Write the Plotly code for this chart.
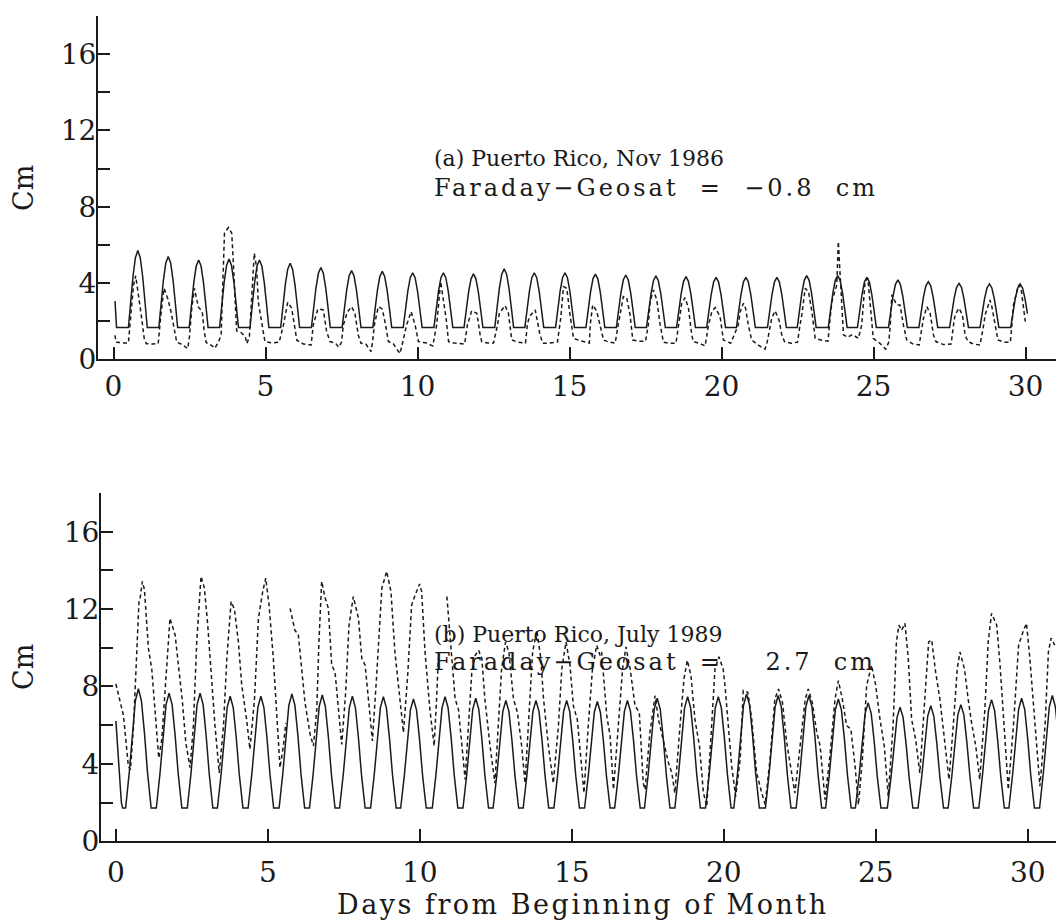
import plotly.graph_objects as go

# (a) Puerto Rico, Nov 1986 -- solid: model, dashed: observed
top_model_day = [
    0.05, 0.10,
    0.49, 0.56, 0.64, 0.72, 0.80, 0.88, 0.96, 1.04, 1.11,
    1.49, 1.56, 1.64, 1.72, 1.80, 1.88, 1.96, 2.04, 2.11,
    2.49, 2.56, 2.64, 2.72, 2.80, 2.88, 2.96, 3.04, 3.11,
    3.49, 3.56, 3.64, 3.72, 3.80, 3.88, 3.96, 4.04, 4.11,
    4.49, 4.56, 4.64, 4.72, 4.80, 4.88, 4.96, 5.04, 5.11,
    5.50, 5.57, 5.65, 5.73, 5.81, 5.89, 5.97, 6.05, 6.12,
    6.51, 6.58, 6.66, 6.74, 6.82, 6.90, 6.98, 7.06, 7.13,
    7.52, 7.59, 7.67, 7.75, 7.83, 7.91, 7.99, 8.07, 8.14,
    8.53, 8.60, 8.68, 8.76, 8.84, 8.92, 9.00, 9.08, 9.15,
    9.53, 9.60, 9.68, 9.76, 9.84, 9.92, 10.00, 10.08, 10.15,
    10.54, 10.61, 10.69, 10.77, 10.85, 10.93, 11.01, 11.09, 11.16,
    11.53, 11.60, 11.68, 11.76, 11.84, 11.92, 12.00, 12.08, 12.15,
    12.54, 12.61, 12.69, 12.77, 12.85, 12.93, 13.01, 13.09, 13.16,
    13.53, 13.60, 13.68, 13.76, 13.84, 13.92, 14.00, 14.08, 14.15,
    14.54, 14.61, 14.69, 14.77, 14.85, 14.93, 15.01, 15.09, 15.16,
    15.54, 15.61, 15.69, 15.77, 15.85, 15.93, 16.01, 16.09, 16.16,
    16.54, 16.61, 16.69, 16.77, 16.85, 16.93, 17.01, 17.09, 17.16,
    17.53, 17.60, 17.68, 17.76, 17.84, 17.92, 18.00, 18.08, 18.15,
    18.52, 18.59, 18.67, 18.75, 18.83, 18.91, 18.99, 19.07, 19.14,
    19.51, 19.58, 19.66, 19.74, 19.82, 19.90, 19.98, 20.06, 20.13,
    20.49, 20.56, 20.64, 20.72, 20.80, 20.88, 20.96, 21.04, 21.11,
    21.51, 21.58, 21.66, 21.74, 21.82, 21.90, 21.98, 22.06, 22.13,
    22.49, 22.56, 22.64, 22.72, 22.80, 22.88, 22.96, 23.04, 23.11,
    23.51, 23.58, 23.66, 23.74, 23.82, 23.90, 23.98, 24.06, 24.13,
    24.47, 24.54, 24.62, 24.70, 24.78, 24.86, 24.94, 25.02, 25.09,
    25.49, 25.56, 25.64, 25.72, 25.80, 25.88, 25.96, 26.04, 26.11,
    26.49, 26.56, 26.64, 26.72, 26.80, 26.88, 26.96, 27.04, 27.11,
    27.50, 27.57, 27.65, 27.73, 27.81, 27.89, 27.97, 28.05, 28.12,
    28.50, 28.57, 28.65, 28.73, 28.81, 28.89, 28.97, 29.05, 29.12,
    29.51, 29.58, 29.66, 29.74, 29.82, 29.90, 29.98, 30.06,
]
top_model_cm = [
    3.05, 1.67,
    1.67, 2.94, 4.33, 5.33, 5.70, 5.33, 4.33, 2.94, 1.67,
    1.67, 2.84, 4.13, 5.05, 5.39, 5.05, 4.13, 2.84, 1.67,
    1.67, 2.79, 4.01, 4.89, 5.21, 4.89, 4.01, 2.79, 1.67,
    1.67, 2.80, 4.04, 4.93, 5.26, 4.93, 4.04, 2.80, 1.67,
    1.67, 2.79, 4.01, 4.89, 5.21, 4.89, 4.01, 2.79, 1.67,
    1.67, 2.73, 3.90, 4.73, 5.04, 4.73, 3.90, 2.73, 1.67,
    1.67, 2.66, 3.75, 4.52, 4.81, 4.52, 3.75, 2.66, 1.67,
    1.67, 2.61, 3.64, 4.38, 4.65, 4.38, 3.64, 2.61, 1.67,
    1.67, 2.60, 3.61, 4.34, 4.61, 4.34, 3.61, 2.60, 1.67,
    1.67, 2.57, 3.57, 4.28, 4.54, 4.28, 3.57, 2.57, 1.67,
    1.67, 2.57, 3.57, 4.28, 4.54, 4.28, 3.57, 2.57, 1.67,
    1.67, 2.56, 3.53, 4.22, 4.48, 4.22, 3.53, 2.56, 1.67,
    1.67, 2.64, 3.70, 4.46, 4.74, 4.46, 3.70, 2.64, 1.67,
    1.67, 2.57, 3.57, 4.28, 4.54, 4.28, 3.57, 2.57, 1.67,
    1.67, 2.57, 3.57, 4.28, 4.54, 4.28, 3.57, 2.57, 1.67,
    1.67, 2.55, 3.52, 4.22, 4.47, 4.22, 3.52, 2.55, 1.67,
    1.67, 2.54, 3.49, 4.17, 4.42, 4.17, 3.49, 2.54, 1.67,
    1.67, 2.52, 3.45, 4.12, 4.37, 4.12, 3.45, 2.52, 1.67,
    1.67, 2.51, 3.43, 4.09, 4.33, 4.09, 3.43, 2.51, 1.67,
    1.67, 2.50, 3.41, 4.06, 4.30, 4.06, 3.41, 2.50, 1.67,
    1.67, 2.50, 3.41, 4.06, 4.30, 4.06, 3.41, 2.50, 1.67,
    1.67, 2.50, 3.41, 4.06, 4.30, 4.06, 3.41, 2.50, 1.67,
    1.67, 2.53, 3.47, 4.14, 4.39, 4.14, 3.47, 2.53, 1.67,
    1.67, 2.53, 3.47, 4.14, 4.39, 4.14, 3.47, 2.53, 1.67,
    1.67, 2.50, 3.41, 4.06, 4.30, 4.06, 3.41, 2.50, 1.67,
    1.67, 2.45, 3.32, 3.93, 4.16, 3.93, 3.32, 2.45, 1.67,
    1.67, 2.43, 3.26, 3.85, 4.07, 3.85, 3.26, 2.43, 1.67,
    1.67, 2.40, 3.20, 3.77, 3.98, 3.77, 3.20, 2.40, 1.67,
    1.67, 2.39, 3.18, 3.74, 3.95, 3.74, 3.18, 2.39, 1.67,
    1.67, 2.39, 3.18, 3.74, 3.95, 3.74, 3.18, 2.39,
]

top_obs_day = [
    0.05, 0.08, 0.30, 0.49, 0.58, 0.66, 0.73, 0.80, 0.87, 0.94, 1.01,
    1.08, 1.30, 1.47, 1.55, 1.62, 1.66, 1.74, 1.80, 1.89, 1.97, 2.08,
    2.25, 2.44, 2.50, 2.57, 2.66, 2.72, 2.79, 2.92, 2.98, 3.05,
    3.25, 3.33, 3.45, 3.54, 3.65, 3.78, 3.89, 3.94, 4.00, 4.05,
    4.20, 4.33, 4.39, 4.47, 4.63, 4.71, 4.76, 4.87, 4.98,
    5.20, 5.45, 5.59, 5.73, 5.86, 5.95, 6.03,
    6.25, 6.50, 6.57, 6.72, 6.90, 7.01, 7.12,
    7.30, 7.41, 7.50, 7.56, 7.69, 7.83, 7.94, 8.05, 8.14,
    8.30, 8.47, 8.52, 8.58, 8.71, 8.84, 8.95, 9.04,
    9.20, 9.42, 9.50, 9.64, 9.79, 9.92, 10.03,
    10.30, 10.50, 10.63, 10.76, 10.85, 10.94, 11.02,
    11.20, 11.55, 11.64, 11.78, 11.95, 12.06, 12.11,
    12.30, 12.50, 12.63, 12.69, 12.88, 12.99, 13.10,
    13.30, 13.55, 13.61, 13.68, 13.87, 14.03, 14.12,
    14.30, 14.60, 14.71, 14.80, 14.91, 15.00, 15.13,
    15.30, 15.65, 15.68, 15.76, 15.89, 16.00, 16.12,
    16.30, 16.50, 16.61, 16.77, 16.88, 16.99, 17.08,
    17.30, 17.50, 17.59, 17.65, 17.76, 17.87, 17.98, 18.09,
    18.30, 18.50, 18.58, 18.69, 18.80, 18.91, 19.02, 19.07,
    19.25, 19.46, 19.57, 19.68, 19.79, 19.95, 20.06,
    20.30, 20.55, 20.61, 20.72, 20.79, 20.88, 20.99,
    21.20, 21.43, 21.50, 21.60, 21.65, 21.76, 21.89, 21.98, 22.07,
    22.30, 22.50, 22.58, 22.64, 22.75, 22.86, 22.97, 23.08,
    23.30, 23.50, 23.57, 23.63, 23.79, 23.84, 23.90, 23.95, 24.01,
    24.15, 24.30, 24.50, 24.61, 24.72, 24.81, 24.88, 24.99,
    25.20, 25.40, 25.50, 25.55, 25.60, 25.76, 25.87, 25.98, 26.09,
    26.30, 26.50, 26.59, 26.64, 26.75, 26.86, 26.97, 27.05,
    27.30, 27.55, 27.63, 27.68, 27.81, 27.92, 28.01, 28.10,
    28.30, 28.50, 28.62, 28.67, 28.83, 28.89, 29.00, 29.09,
    29.30, 29.50, 29.55, 29.60, 29.77, 29.85, 29.99,
]
top_obs_cm = [
    1.26, 0.90, 0.86, 0.86, 2.50, 3.90, 4.38, 3.60, 3.02, 2.00, 1.09,
    0.82, 0.80, 0.82, 2.20, 3.30, 3.72, 3.40, 3.10, 2.50, 1.79, 0.90,
    0.78, 0.56, 1.20, 2.60, 3.72, 3.20, 2.75, 2.49, 1.50, 0.88,
    0.70, 0.58, 0.90, 1.28, 6.61, 6.91, 6.61, 5.12, 2.68, 1.49,
    1.40, 1.20, 0.82, 1.20, 5.56, 4.78, 3.03, 1.98, 0.93,
    0.86, 0.90, 1.80, 2.99, 2.68, 1.80, 1.00,
    0.80, 0.75, 1.80, 2.64, 2.59, 1.45, 0.93,
    0.85, 0.63, 0.90, 1.80, 2.47, 2.76, 2.41, 1.28, 0.84,
    0.80, 0.40, 0.90, 1.80, 2.76, 2.64, 1.80, 0.93,
    0.82, 0.30, 0.80, 1.80, 2.50, 1.80, 0.93,
    0.85, 0.70, 1.80, 4.07, 3.20, 2.15, 0.93,
    0.85, 0.80, 1.80, 2.54, 2.41, 1.28, 0.93,
    0.85, 0.85, 1.80, 2.41, 2.82, 2.41, 1.01,
    0.90, 0.85, 1.80, 2.24, 2.59, 1.28, 0.84,
    0.84, 0.90, 2.15, 3.81, 3.72, 2.50, 1.10,
    1.00, 0.85, 1.80, 2.85, 2.54, 1.80, 1.01,
    0.90, 0.85, 1.89, 3.29, 3.23, 2.33, 1.01,
    0.95, 0.95, 1.80, 3.03, 3.64, 3.11, 1.80, 0.89,
    0.84, 0.84, 1.80, 2.94, 3.23, 2.68, 1.28, 0.93,
    0.85, 0.70, 1.80, 2.50, 2.71, 2.24, 1.01,
    0.84, 1.80, 2.50, 2.94, 2.68, 1.80, 1.01,
    0.75, 0.53, 0.90, 1.80, 2.15, 2.54, 2.06, 1.28, 0.93,
    0.84, 0.90, 1.80, 2.33, 3.72, 3.55, 2.50, 1.10,
    1.00, 0.95, 2.15, 3.03, 3.90, 6.17, 4.42, 2.68, 1.28,
    1.15, 1.30, 1.10, 1.80, 4.07, 4.25, 3.03, 1.10,
    0.85, 0.53, 0.90, 1.80, 3.38, 2.85, 2.85, 1.80, 1.01,
    0.80, 0.75, 1.80, 2.15, 2.76, 2.41, 1.28, 0.93,
    0.77, 0.80, 1.80, 2.33, 2.68, 2.33, 1.28, 0.93,
    0.80, 0.75, 1.80, 2.33, 3.11, 2.76, 1.80, 1.01,
    0.90, 0.90, 1.80, 2.85, 3.90, 3.72, 1.98,
]

# (b) Puerto Rico, July 1989
bot_model_day = [
    0.00, 0.06, 0.12, 0.18, 0.22,
    0.32, 0.44, 0.54, 0.64, 0.74, 0.84, 0.94, 1.04, 1.16,
    1.33, 1.45, 1.55, 1.65, 1.75, 1.85, 1.95, 2.05, 2.17,
    2.35, 2.47, 2.57, 2.67, 2.77, 2.87, 2.97, 3.07, 3.19,
    3.34, 3.46, 3.56, 3.66, 3.76, 3.86, 3.96, 4.06, 4.18,
    4.35, 4.47, 4.57, 4.67, 4.77, 4.87, 4.97, 5.07, 5.19,
    5.37, 5.49, 5.59, 5.69, 5.79, 5.89, 5.99, 6.09, 6.21,
    6.37, 6.49, 6.59, 6.69, 6.79, 6.89, 6.99, 7.09, 7.21,
    7.36, 7.48, 7.58, 7.68, 7.78, 7.88, 7.98, 8.08, 8.20,
    8.38, 8.50, 8.60, 8.70, 8.80, 8.90, 9.00, 9.10, 9.22,
    9.37, 9.49, 9.59, 9.69, 9.79, 9.89, 9.99, 10.09, 10.21,
    10.41, 10.53, 10.63, 10.73, 10.83, 10.93, 11.03, 11.13, 11.25,
    11.42, 11.54, 11.64, 11.74, 11.84, 11.94, 12.04, 12.14, 12.26,
    12.41, 12.53, 12.63, 12.73, 12.83, 12.93, 13.03, 13.13, 13.25,
    13.40, 13.52, 13.62, 13.72, 13.82, 13.92, 14.02, 14.12, 14.24,
    14.41, 14.53, 14.63, 14.73, 14.83, 14.93, 15.03, 15.13, 15.25,
    15.42, 15.54, 15.64, 15.74, 15.84, 15.94, 16.04, 16.14, 16.26,
    16.41, 16.53, 16.63, 16.73, 16.83, 16.93, 17.03, 17.13, 17.25,
    17.39, 17.51, 17.61, 17.71, 17.81, 17.91, 18.01, 18.11, 18.23,
    18.39, 18.51, 18.61, 18.71, 18.81, 18.91, 19.01, 19.11, 19.23,
    19.40, 19.52, 19.62, 19.72, 19.82, 19.92, 20.02, 20.12, 20.24,
    20.33, 20.45, 20.55, 20.65, 20.75, 20.85, 20.95, 21.05, 21.17,
    21.37, 21.49, 21.59, 21.69, 21.79, 21.89, 21.99, 22.09, 22.21,
    22.38, 22.50, 22.60, 22.70, 22.80, 22.90, 23.00, 23.10, 23.22,
    23.35, 23.47, 23.57, 23.67, 23.77, 23.87, 23.97, 24.07, 24.19,
    24.33, 24.45, 24.55, 24.65, 24.75, 24.85, 24.95, 25.05, 25.17,
    25.38, 25.50, 25.60, 25.70, 25.80, 25.90, 26.00, 26.10, 26.22,
    26.39, 26.51, 26.61, 26.71, 26.81, 26.91, 27.01, 27.11, 27.23,
    27.38, 27.50, 27.60, 27.70, 27.80, 27.90, 28.00, 28.10, 28.22,
    28.39, 28.51, 28.61, 28.71, 28.81, 28.91, 29.01, 29.11, 29.23,
    29.38, 29.50, 29.60, 29.70, 29.80, 29.90, 30.00, 30.10, 30.22,
    30.39, 30.51, 30.61, 30.71, 30.81, 30.91, 31.01,
]
bot_model_cm = [
    6.22, 4.70, 3.10, 2.00, 1.71,
    1.71, 3.56, 5.60, 7.26, 7.88, 7.26, 5.60, 3.56, 1.71,
    1.71, 3.49, 5.45, 7.06, 7.65, 7.06, 5.45, 3.49, 1.71,
    1.71, 3.49, 5.45, 7.06, 7.65, 7.06, 5.45, 3.49, 1.71,
    1.71, 3.44, 5.35, 6.91, 7.49, 6.91, 5.35, 3.44, 1.71,
    1.71, 3.44, 5.35, 6.91, 7.49, 6.91, 5.35, 3.44, 1.71,
    1.71, 3.48, 5.43, 7.02, 7.61, 7.02, 5.43, 3.48, 1.71,
    1.71, 3.47, 5.40, 6.98, 7.56, 6.98, 5.40, 3.47, 1.71,
    1.71, 3.44, 5.35, 6.91, 7.49, 6.91, 5.35, 3.44, 1.71,
    1.71, 3.44, 5.34, 6.89, 7.47, 6.89, 5.34, 3.44, 1.71,
    1.71, 3.40, 5.26, 6.79, 7.35, 6.79, 5.26, 3.40, 1.71,
    1.71, 3.44, 5.34, 6.89, 7.47, 6.89, 5.34, 3.44, 1.71,
    1.71, 3.41, 5.29, 6.82, 7.39, 6.82, 5.29, 3.41, 1.71,
    1.71, 3.38, 5.21, 6.71, 7.27, 6.71, 5.21, 3.38, 1.71,
    1.71, 3.38, 5.21, 6.71, 7.27, 6.71, 5.21, 3.38, 1.71,
    1.71, 3.38, 5.21, 6.71, 7.27, 6.71, 5.21, 3.38, 1.71,
    1.71, 3.36, 5.18, 6.67, 7.22, 6.67, 5.18, 3.36, 1.71,
    1.71, 3.38, 5.21, 6.71, 7.27, 6.71, 5.21, 3.38, 1.71,
    1.71, 3.41, 5.29, 6.82, 7.39, 6.82, 5.29, 3.41, 1.71,
    1.71, 3.44, 5.34, 6.89, 7.47, 6.89, 5.34, 3.44, 1.71,
    1.71, 3.44, 5.34, 6.89, 7.47, 6.89, 5.34, 3.44, 1.71,
    1.71, 3.48, 5.43, 7.02, 7.61, 7.02, 5.43, 3.48, 1.71,
    1.71, 3.46, 5.38, 6.95, 7.53, 6.95, 5.38, 3.46, 1.71,
    1.71, 3.46, 5.38, 6.95, 7.53, 6.95, 5.38, 3.46, 1.71,
    1.71, 3.40, 5.26, 6.79, 7.35, 6.79, 5.26, 3.40, 1.71,
    1.71, 3.34, 5.14, 6.61, 7.15, 6.61, 5.14, 3.34, 1.71,
    1.71, 3.27, 4.99, 6.40, 6.92, 6.40, 4.99, 3.27, 1.71,
    1.71, 3.30, 5.04, 6.47, 7.00, 6.47, 5.04, 3.30, 1.71,
    1.71, 3.32, 5.08, 6.53, 7.06, 6.53, 5.08, 3.32, 1.71,
    1.71, 3.39, 5.24, 6.76, 7.32, 6.76, 5.24, 3.39, 1.71,
    1.71, 3.41, 5.29, 6.82, 7.39, 6.82, 5.29, 3.41, 1.71,
    1.71, 3.46, 5.38, 6.95, 7.53, 6.95, 5.38,
]

bot_obs_day = [
    0.00, 0.14, 0.25, 0.41, 0.48, 0.58, 0.69, 0.76, 0.80, 0.87, 0.94,
    1.07, 1.18, 1.29, 1.41, 1.51, 1.62, 1.78, 1.95, 2.06, 2.19, 2.30,
    2.44, 2.55, 2.66, 2.80, 2.91, 3.02, 3.15, 3.26, 3.40,
    3.54, 3.65, 3.79, 3.90, 4.03, 4.14, 4.30, 4.41,
    4.56, 4.69, 4.83, 4.93, 5.04, 5.18, 5.29, 5.40, 5.51, 5.59, None,
    5.73, 5.89, 6.00, 6.11, 6.22, 6.39, 6.50,
    6.61, 6.68, 6.77, 6.88, 6.99, 7.10, 7.21, 7.32, 7.43,
    7.56, 7.67, 7.81, 7.98, 8.09, 8.20, 8.33, 8.44,
    8.58, 8.75, 8.91, 9.05, 9.18, 9.31, 9.46,
    9.60, 9.73, 9.84, 9.99, 10.06, 10.17, 10.33, 10.47,
    10.55, 10.61, None, 10.89, 10.97, 11.05, 11.16, 11.27, 11.38, 11.49,
    11.60, 11.71, 11.82, 11.93, 12.04, 12.14, 12.31, 12.47,
    12.58, 12.69, 12.82, 12.93, 13.08, 13.21, 13.35, 13.46,
    13.57, 13.71, 13.85, 13.98, 14.07, 14.23, 14.39,
    14.56, 14.67, 14.81, 14.94, 15.05, 15.18, 15.29, 15.40,
    15.54, 15.68, 15.82, 15.93, 15.98, 16.15, 16.26, 16.37,
    16.53, 16.67, 16.78, 16.92, 17.08, 17.22, 17.35, 17.41,
    17.57, 17.74, 17.85, 18.01, 18.18, 18.29, 18.39,
    18.56, 18.69, 18.80, 18.92, 19.05, 19.20, 19.33, 19.44,
    19.60, 19.71, 19.84, 19.98, 20.04, 20.15, 20.26, 20.39,
    20.54, 20.64, 20.79, 20.92, 21.08, 21.25, 21.36,
    21.52, 21.68, 21.80, 21.93, 22.07, 22.24, 22.34,
    22.51, 22.68, 22.78, 22.91, 23.06, 23.17, 23.33,
    23.48, 23.66, 23.77, 23.90, 24.04, 24.18, 24.32, 24.43,
    24.56, 24.70, 24.86, 25.00, 25.14, 25.28, 25.41,
    25.57, 25.68, 25.76, 25.85, 25.96, 26.07, 26.18, 26.31, 26.45,
    26.60, 26.74, 26.84, 26.97, 27.11, 27.28, 27.41,
    27.55, 27.68, 27.77, 27.92, 28.04, 28.15, 28.29, 28.42,
    28.59, 28.70, 28.81, 28.98, 29.09, 29.23, 29.36,
    29.53, 29.70, 29.86, 29.96, 30.07, 30.18, 30.29, 30.40,
    30.57, 30.68, 30.77, 30.89,
]
bot_obs_cm = [
    8.13, 7.26, 6.49, 3.88, 3.70, 5.96, 9.44, 12.39, 12.60, 13.43, 13.00,
    9.96, 8.90, 6.49, 4.30, 5.27, 8.00, 11.52, 10.65, 9.10, 7.18, 5.10,
    3.80, 5.97, 10.30, 13.69, 13.10, 11.20, 8.07, 5.97, 3.53,
    5.97, 9.44, 12.39, 12.00, 10.30, 8.07, 6.30, 4.75,
    7.35, 11.52, 12.90, 13.60, 12.20, 9.44, 6.83, 3.80, 4.92, 6.10, None,
    12.04, 10.90, 10.70, 8.90, 7.18, 5.53, 4.92,
    6.83, 10.30, 13.43, 12.60, 12.04, 9.10, 8.74, 6.66, 5.00,
    7.70, 11.17, 12.65, 11.52, 9.44, 9.10, 7.00, 5.18,
    8.57, 13.08, 13.95, 12.90, 9.78, 7.70, 5.62,
    8.57, 12.20, 12.70, 13.30, 12.90, 9.78, 6.83, 4.92,
    7.35, 9.44, None, 12.65, 11.17, 9.60, 7.35, 6.83, 4.92, 3.19,
    5.97, 8.74, 9.60, 9.87, 9.44, 7.35, 4.92, 3.00,
    5.97, 8.90, 10.30, 9.78, 7.35, 6.66, 4.92, 3.00,
    5.97, 9.78, 10.90, 9.44, 7.35, 4.92, 3.00,
    5.97, 8.90, 10.30, 9.10, 7.00, 6.30, 4.58, 2.49,
    5.97, 8.90, 10.13, 9.60, 9.78, 6.49, 5.44, 2.67,
    5.97, 8.90, 10.04, 8.90, 7.00, 6.66, 3.00, 2.67,
    5.62, 7.52, 6.30, 5.27, 4.06, 3.53, 2.49,
    5.97, 8.40, 9.35, 8.57, 6.30, 4.92, 2.49, 1.80,
    5.97, 8.90, 9.53, 8.90, 8.04, 5.97, 3.88, 2.32,
    4.23, 7.79, 7.70, 6.30, 3.53, 2.49, 1.89,
    4.23, 7.35, 7.87, 7.18, 5.10, 3.53, 2.49,
    4.92, 7.35, 7.87, 7.18, 5.62, 4.92, 2.15,
    4.23, 7.35, 8.30, 7.35, 5.97, 5.80, 3.88, 1.89,
    4.23, 8.04, 9.10, 8.04, 6.30, 4.92, 2.32,
    5.97, 10.30, 11.17, 10.90, 11.26, 9.44, 6.30, 5.27, 3.53,
    6.83, 10.30, 10.40, 8.74, 7.35, 4.92, 3.19,
    5.97, 8.90, 9.78, 8.90, 7.35, 6.14, 4.92, 3.19,
    6.83, 10.30, 11.78, 11.17, 9.10, 5.97, 2.67,
    5.97, 10.13, 10.90, 11.26, 9.44, 7.35, 4.92, 2.84,
    5.97, 9.78, 10.50, 10.13,
]

panel_text = [
    ("(a) Puerto Rico, Nov 1986", "Faraday\u2212Geosat  =  \u22120.8  cm"),
    ("(b) Puerto Rico, July 1989", "Faraday\u2212Geosat  =    2.7  cm"),
]
x_ticks = [0, 5, 10, 15, 20, 25, 30]
y_ticks = [0, 2, 4, 6, 8, 10, 12, 14, 16, 18]
y_labels = ["0", "", "4", "", "8", "", "12", "", "16", ""]

INK = "#1a1a1a"
FONT = "DejaVu Serif"
W, H = 1056, 924


def px(x):
    return x / W


def py(y):
    return 1 - y / H


fig = go.Figure()

solid = dict(color=INK, width=1.5)
dashed = dict(color=INK, width=1.5, dash="4px,3px")

fig.add_trace(go.Scatter(x=top_model_day, y=top_model_cm, mode="lines",
                         line=solid, xaxis="x", yaxis="y"))
fig.add_trace(go.Scatter(x=top_obs_day, y=top_obs_cm, mode="lines",
                         line=dashed, xaxis="x", yaxis="y"))
fig.add_trace(go.Scatter(x=bot_model_day, y=bot_model_cm, mode="lines",
                         line=solid, xaxis="x2", yaxis="y2"))
fig.add_trace(go.Scatter(x=bot_obs_day, y=bot_obs_cm, mode="lines",
                         line=dashed, connectgaps=False,
                         xaxis="x2", yaxis="y2"))

axis_common = dict(
    showline=True, linewidth=2, linecolor=INK, mirror=False,
    ticks="inside", ticklen=12, tickwidth=1.5, tickcolor=INK,
    showgrid=False, zeroline=False, automargin=False,
    tickfont=dict(family=FONT, size=28, color=INK),
)

fig.update_layout(
    width=W, height=H,
    margin=dict(l=0, r=0, t=0, b=0),
    paper_bgcolor="white", plot_bgcolor="white",
    showlegend=False,
    template="none",
    xaxis=dict(axis_common, domain=[px(98), 1], range=[-0.51, 31.0],
               anchor="y", tickvals=x_ticks, ticklabelstandoff=1),
    yaxis=dict(axis_common, domain=[py(359.3), py(16)], range=[0, 18],
               anchor="x", tickvals=y_ticks, ticktext=y_labels,
               ticklabelstandoff=-6),
    xaxis2=dict(axis_common, domain=[px(101), 1], range=[-0.49, 30.93],
                anchor="y2", tickvals=x_ticks, ticklabelstandoff=5),
    yaxis2=dict(axis_common, domain=[py(841.2), py(493)], range=[0, 18],
                anchor="x2", tickvals=y_ticks, ticktext=y_labels,
                ticklabelstandoff=-6),
)

line1_font = dict(family=FONT, size=22, color=INK)
line2_font = dict(family=FONT, size=24, color=INK)
for (line1, line2), y1, y2 in zip(panel_text, [158, 634], [188, 662]):
    fig.add_annotation(text=line1, x=px(432), y=py(y1), xref="paper", yref="paper",
                       xanchor="left", yanchor="middle", showarrow=False,
                       font=line1_font)
    fig.add_annotation(text='<span style="letter-spacing:3px">' + line2 + "</span>",
                       x=px(432), y=py(y2), xref="paper", yref="paper",
                       xanchor="left", yanchor="middle", showarrow=False,
                       font=line2_font)

for yc in [188, 667]:
    fig.add_annotation(text="Cm", x=px(23), y=py(yc), xref="paper", yref="paper",
                       xanchor="center", yanchor="middle",
                       textangle=-90, showarrow=False,
                       font=dict(family=FONT, size=27, color=INK))

fig.add_annotation(text='<span style="letter-spacing:2.5px">Days from Beginning of Month</span>',
                   x=px(583), y=py(904), xref="paper", yref="paper",
                   xanchor="center", yanchor="middle", showarrow=False,
                   font=dict(family=FONT, size=27, color=INK))

# the page body has a default 8px margin; drop it so the figure fills the window
fig.write_html("out.html", config={"displayModeBar": False},
               post_script="document.body.style.margin='0';")
